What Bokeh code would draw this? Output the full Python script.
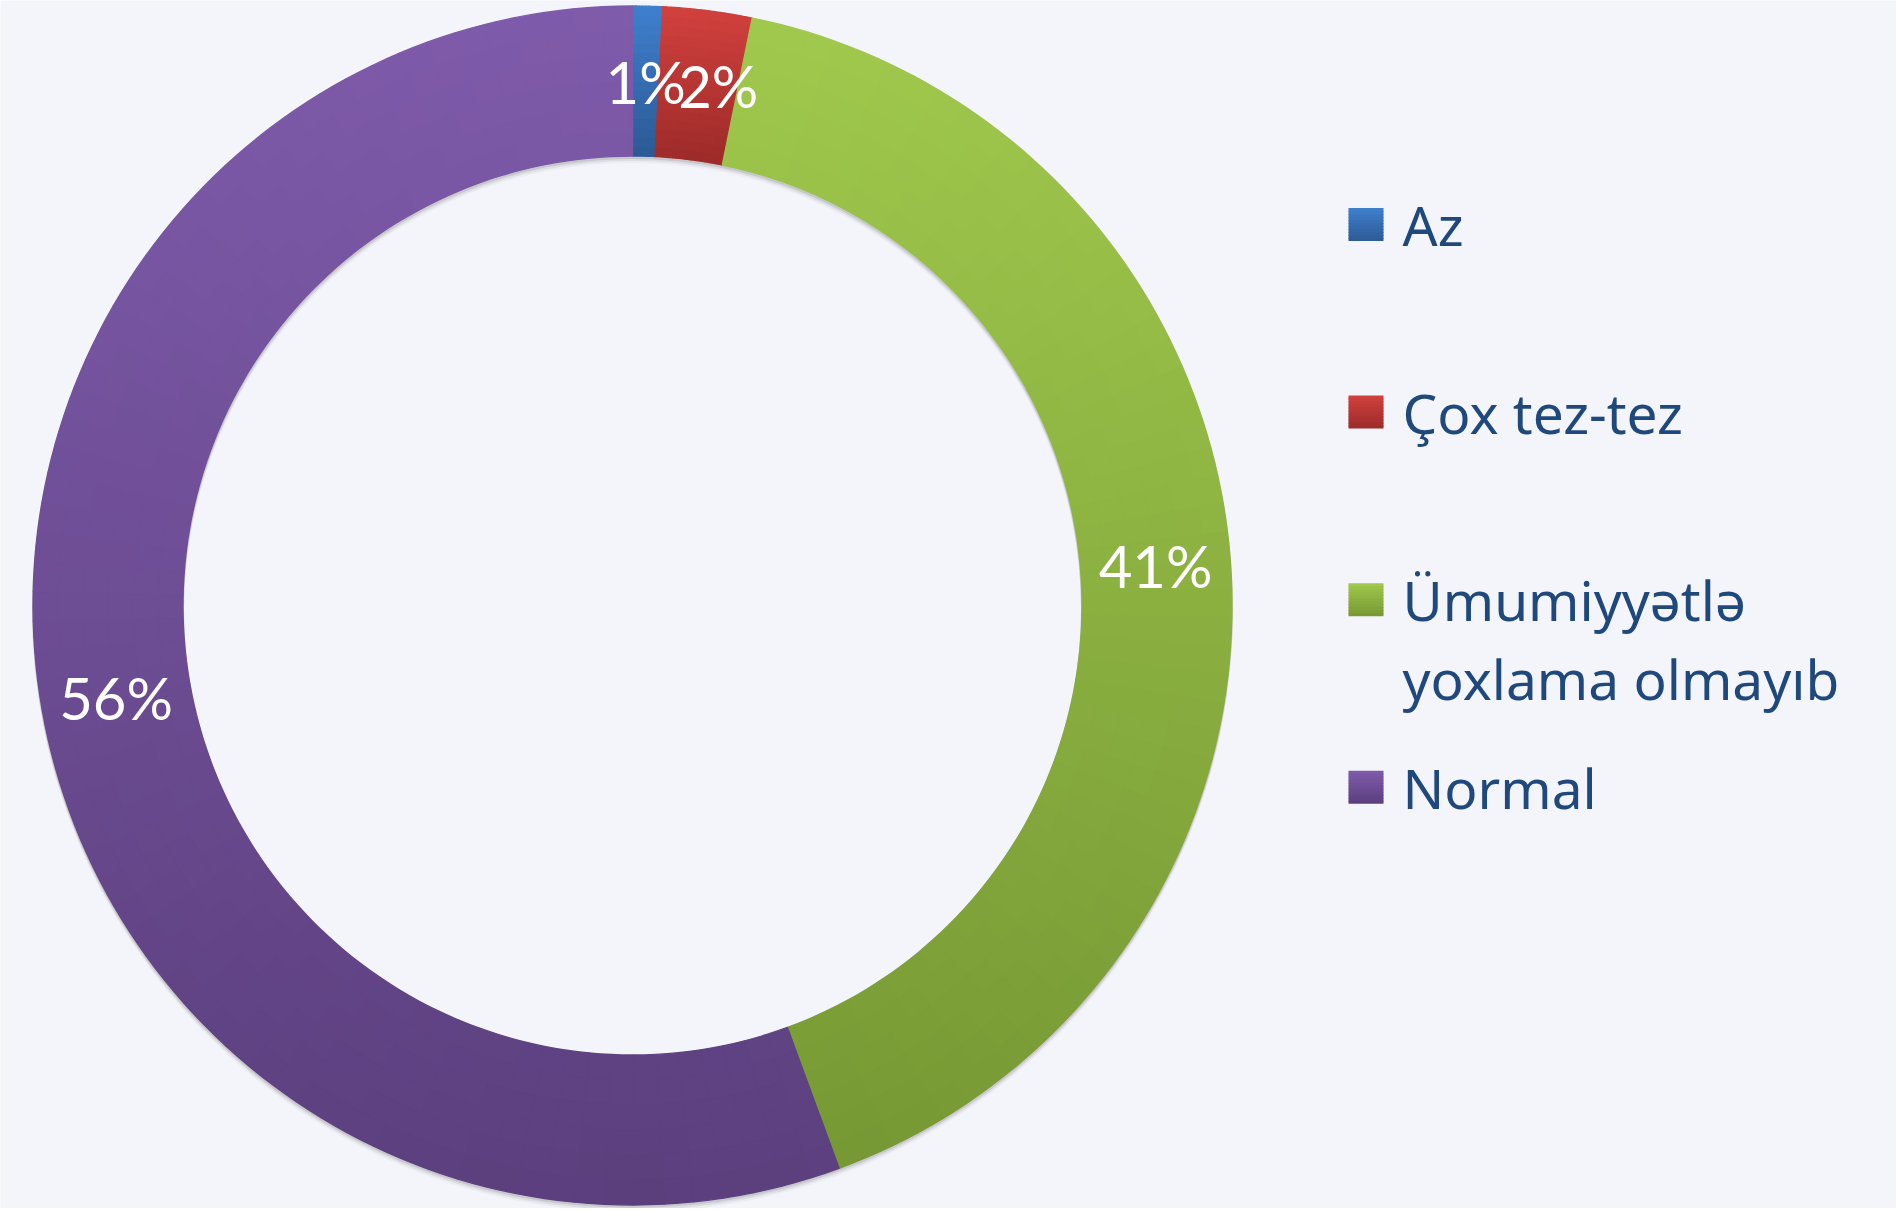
import math
import numpy as np
from bokeh.plotting import figure
from bokeh.models import Range1d, ColumnDataSource
from bokeh.embed import file_html
from bokeh.resources import INLINE
from bokeh.core.properties import value

# ---- data ----
categories = ["Az", "Çox tez-tez", "Ümumiyyətlə\nyoxlama olmayıb", "Normal"]
shares = [0.8, 2.4, 41.2, 55.6]
pct_labels = ["1%", "2%", "41%", "56%"]
top_colors = ["#3F80CE", "#D2413E", "#A0C94D", "#7F5BAB"]
bottom_colors = ["#2C5A94", "#9B2B29", "#769834", "#5B3F7D"]

# ---- layout (1 data unit = 1 screen pixel, y measured up from bottom of window) ----
W, H = 1896, 1208
WIN_H = 1210
BG = "#F4F5FA"
CX, CY = 632.0, 605.0
R_OUT, R_IN = 599.5, 449.5
LABEL_NUDGE_X = [0, 20, 0, 0]
LEG_X, LEG_Y0, LEG_STEP = 1348.0, 986.0, 187.6
LEG_W, LEG_H = 35.0, 33.0
LEG_TEXT_DX = 54.0
LINE_PX = 78.7


def hex2rgb(h):
    h = h.lstrip("#")
    return np.array([int(h[i:i + 2], 16) for i in (0, 2, 4)], dtype=float)


def lerp_hex(a, b, t):
    c = hex2rgb(a) * (1 - t) + hex2rgb(b) * t
    return "#%02x%02x%02x" % tuple(int(round(v)) for v in c)


p = figure(width=W, height=H, x_range=Range1d(0, W), y_range=Range1d(WIN_H - H, WIN_H),
           output_backend="svg", toolbar_location=None, min_border=0)
p.axis.visible = False
p.grid.visible = False
p.outline_line_color = None
p.background_fill_color = BG
p.border_fill_color = BG

# ---- shadow ----
for dy, a in [(-2, 0.10), (-4, 0.06), (-6, 0.03)]:
    p.annulus(x=[CX], y=[CY + dy], inner_radius=R_IN - 1, outer_radius=R_OUT + 1,
              fill_color="black", fill_alpha=a, line_color=None)

# ---- donut with vertical gradient per slice ----
total = float(sum(shares))
cum = np.concatenate([[0.0], np.cumsum(shares)]) / total
xs, ys, rin, rout, sa, ea, cols = [], [], [], [], [], [], []
lab_x, lab_y = [], []
for i in range(len(shares)):
    th0, th1 = 2 * math.pi * cum[i], 2 * math.pi * cum[i + 1]
    samp = np.linspace(th0, th1, 800)
    yy = np.concatenate([CY + R_OUT * np.cos(samp), CY + R_IN * np.cos(samp)])
    ytop, ybot = yy.max(), yy.min()
    hgt = max(ytop - ybot, 1.0)
    n_r = int(min(16, max(3, math.ceil(40 * (R_OUT - R_IN) / hgt))))
    dth = hgt / (40 * R_OUT)
    n_a = int(max(4, math.ceil((th1 - th0) / dth)))
    ths = np.linspace(th0, th1, n_a + 1)
    rs = np.linspace(R_IN, R_OUT, n_r + 1)
    for a in range(n_a):
        for r in range(n_r):
            tm = 0.5 * (ths[a] + ths[a + 1])
            rm = 0.5 * (rs[r] + rs[r + 1])
            yc = CY + rm * math.cos(tm)
            t = min(1.0, max(0.0, (ytop - yc) / hgt))
            xs.append(CX)
            ys.append(CY)
            rin.append(rs[r])
            rout.append(rs[r + 1])
            sa.append(math.pi / 2 - ths[a])
            ea.append(math.pi / 2 - ths[a + 1])
            cols.append(lerp_hex(top_colors[i], bottom_colors[i], t))
    tmid = 0.5 * (th0 + th1)
    rmid = 0.5 * (R_IN + R_OUT)
    lab_x.append(CX + rmid * math.sin(tmid) + LABEL_NUDGE_X[i])
    lab_y.append(CY + rmid * math.cos(tmid))

src = ColumnDataSource(dict(x=xs, y=ys, ri=rin, ro=rout, s=sa, e=ea, c=cols))
p.annular_wedge(x="x", y="y", inner_radius="ri", outer_radius="ro",
                start_angle="s", end_angle="e", direction="clock",
                fill_color="c", line_color="c", line_width=1.3, source=src)

# ---- percentage labels ----
p.text(x=lab_x, y=lab_y, text=pct_labels, text_color="white",
       text_font=value("Lato"), text_font_size="58px",
       text_align="center", text_baseline="middle")

# ---- legend ----
q_l, q_r, q_t, q_b, q_c = [], [], [], [], []
leg_tx, leg_ty = [], []
n_strip = 11
for i, name in enumerate(categories):
    yc = LEG_Y0 - i * LEG_STEP
    sh = LEG_H / n_strip
    for k in range(n_strip):
        top = yc + LEG_H / 2 - k * sh
        q_l.append(LEG_X)
        q_r.append(LEG_X + LEG_W)
        q_t.append(top)
        q_b.append(top - sh - (0.8 if k < n_strip - 1 else 0.0))
        q_c.append(lerp_hex(top_colors[i], bottom_colors[i], (k + 0.5) / n_strip))
    nlines = name.count("\n") + 1
    leg_tx.append(LEG_X + LEG_TEXT_DX)
    leg_ty.append(yc - (nlines - 1) * LINE_PX / 2)

p.quad(left=q_l, right=q_r, top=q_t, bottom=q_b, fill_color=q_c, line_color=None)
p.text(x=leg_tx, y=leg_ty, text=categories, text_color="#1F497D",
       text_font=value("Noto Sans"), text_font_size="55px",
       text_align="left", text_baseline="middle", text_line_height=1.05)

html = file_html(p, INLINE)
html = html.replace("<body>", '<body style="background-color:%s;">' % BG, 1)
open("out.html", "w").write(html)
